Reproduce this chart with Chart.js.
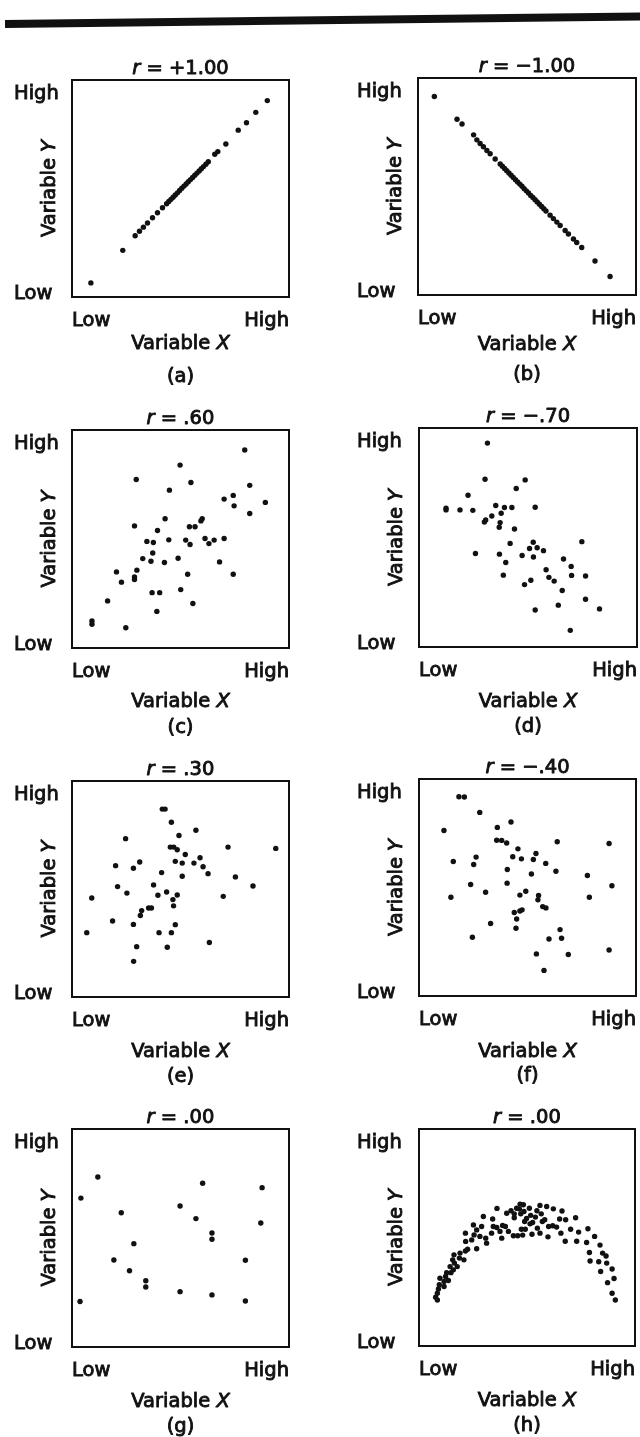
<!DOCTYPE html>
<html>
<head>
<meta charset="utf-8">
<title>Scatter plots and correlation</title>
<script src="https://cdn.jsdelivr.net/npm/chart.js@4.4.1/dist/chart.umd.min.js"></script>
<style>
  html, body { margin: 0; padding: 0; background: #fff; }
  #page { position: relative; width: 640px; height: 1437px; overflow: hidden; }
  .rule {
    position: absolute; left: 5px; top: 20px; width: 640px; height: 8px;
    background: #111; transform-origin: 0 50%; transform: rotate(-0.68deg);
  }
  .panel { position: absolute; }
  .panel canvas { display: block; }
</style>
</head>
<body>
<div id="page">
  <div class="rule"></div>
</div>
<script>
// tick labels shared by every panel
const xTickLabels = ['Low', 'High'];
const yTickLabels = ['Low', 'High'];
const xTickValues = [0, 100];
const yTickValues = [1.5, 93.5];

// correlation shown above each panel, and the caption below it
const rValues = ['+1.00', '\u22121.00', '.60', '\u2212.70', '.30', '\u2212.40', '.00', '.00'];
const captions = ['(a)', '(b)', '(c)', '(d)', '(e)', '(f)', '(g)', '(h)'];

// scatter points as [x, y] on a 0-100 scale
const pointsA = [
  [8.7, 6.5], [23.4, 21.5], [29.1, 28.2], [31.1, 30.3], [32.9, 32.2], [34.8, 34.1],
  [37.1, 36.5], [39.4, 38.8], [41.7, 41.1], [43.6, 43.0], [44.6, 44.0], [45.6, 45.0],
  [46.6, 46.0], [47.6, 47.0], [48.6, 48.0], [49.6, 49.1], [50.6, 50.1], [51.6, 51.1],
  [52.6, 52.1], [53.6, 53.1], [54.6, 54.1], [55.6, 55.1], [56.6, 56.1], [57.6, 57.1],
  [58.6, 58.1], [59.6, 59.1], [60.6, 60.1], [61.7, 61.2], [62.8, 62.3], [65.8, 65.8],
  [67.2, 67.0], [70.9, 70.5], [76.6, 76.9], [80.4, 80.3], [84.7, 85.1], [90.0, 90.5]
];
const pointsB = [
  [7.5, 91.5], [17.9, 81.0], [20.2, 78.8], [25.5, 73.8], [27.0, 71.5], [28.5, 69.8],
  [30.0, 68.3], [31.6, 66.6], [33.1, 65.1], [35.4, 62.7], [37.7, 60.4], [38.7, 59.3],
  [39.7, 58.3], [40.7, 57.3], [41.7, 56.2], [42.7, 55.2], [43.7, 54.2], [44.7, 53.1],
  [45.7, 52.1], [46.7, 51.1], [47.7, 50.1], [48.7, 49.0], [49.7, 48.0], [50.7, 47.0],
  [51.7, 45.9], [52.7, 44.9], [53.7, 43.9], [54.7, 42.9], [55.7, 41.8], [56.7, 40.8],
  [57.7, 39.8], [58.7, 38.7], [60.6, 36.8], [62.1, 35.2], [63.7, 33.6], [65.2, 32.0],
  [67.5, 29.7], [69.0, 28.1], [71.3, 25.8], [72.8, 24.2], [75.1, 21.9], [81.2, 15.7],
  [88.1, 8.5]
];
const pointsC = [
  [79.6, 90.8], [49.8, 83.9], [29.6, 77.3], [54.8, 75.9], [81.9, 74.6], [44.9, 72.4],
  [70.1, 68.3], [74.3, 70.0], [74.7, 65.2], [89.1, 66.8], [81.9, 61.7], [42.9, 59.3],
  [60.0, 59.3], [59.4, 58.3], [28.8, 56.0], [54.1, 55.6], [56.7, 55.6], [39.4, 53.9],
  [34.5, 48.9], [37.5, 48.4], [44.6, 49.6], [52.4, 49.5], [54.4, 47.5], [61.3, 50.2],
  [63.1, 47.9], [65.5, 49.5], [70.1, 50.2], [37.2, 43.6], [32.6, 41.0], [36.4, 39.8],
  [42.6, 39.2], [48.9, 41.2], [68.0, 39.5], [29.9, 35.7], [20.5, 34.9], [28.8, 32.6],
  [28.8, 31.4], [22.8, 30.2], [53.3, 33.8], [74.3, 33.8], [36.9, 25.4], [40.4, 25.4],
  [50.1, 26.8], [16.4, 21.6], [55.7, 20.4], [39.1, 16.8], [9.2, 12.4], [9.2, 10.9],
  [24.8, 9.3]
];
const pointsD = [
  [31.4, 93.1], [30.3, 76.6], [48.7, 76.3], [44.6, 72.4], [22.5, 69.3], [12.4, 63.4],
  [12.4, 62.6], [18.8, 62.6], [24.7, 62.4], [35.2, 64.6], [39.2, 63.7], [42.6, 63.7],
  [53.3, 63.8], [37.7, 61.1], [33.4, 59.8], [30.6, 58.0], [30.0, 57.1], [37.2, 56.8],
  [36.8, 54.7], [43.8, 53.9], [41.8, 47.3], [74.7, 48.1], [52.4, 47.8], [50.7, 45.0],
  [54.2, 45.3], [57.1, 44.0], [25.9, 42.7], [36.9, 42.4], [47.3, 41.8], [52.5, 41.1],
  [39.8, 38.6], [66.3, 40.2], [69.8, 36.8], [58.3, 35.3], [59.6, 31.8], [62.0, 30.1],
  [38.7, 32.8], [70.0, 32.7], [76.4, 32.4], [51.3, 30.5], [48.4, 28.5], [65.7, 25.8],
  [76.4, 21.8], [53.3, 16.9], [63.9, 19.1], [82.8, 17.4], [69.4, 7.6]
];
const pointsE = [
  [41.6, 87.0], [42.9, 87.0], [45.8, 80.9], [57.1, 77.2], [49.3, 74.8], [24.7, 73.3],
  [45.3, 69.4], [46.9, 69.4], [48.5, 68.2], [71.9, 69.4], [93.9, 68.8], [52.2, 66.0],
  [59.0, 64.5], [20.1, 60.8], [31.2, 62.5], [28.3, 59.6], [47.6, 62.8], [50.8, 62.0],
  [56.2, 62.0], [60.4, 60.3], [41.3, 57.6], [62.7, 57.1], [50.8, 55.9], [75.3, 55.6],
  [37.6, 51.9], [21.0, 51.1], [83.4, 51.4], [25.3, 48.1], [39.6, 47.1], [43.6, 48.6],
  [48.5, 47.2], [46.5, 45.1], [69.7, 46.6], [9.1, 45.8], [46.8, 42.2], [35.3, 41.2],
  [36.6, 41.2], [32.1, 40.0], [31.5, 37.7], [18.7, 35.2], [28.3, 33.6], [47.6, 33.5],
  [6.8, 29.8], [40.1, 29.8], [45.8, 29.8], [63.3, 25.2], [29.8, 23.3], [43.9, 23.0],
  [28.4, 16.5]
];
const pointsF = [
  [18.4, 91.8], [20.9, 91.7], [28.0, 84.6], [42.4, 80.2], [36.1, 77.7], [11.5, 76.3],
  [35.8, 71.8], [38.1, 71.7], [40.4, 70.5], [63.7, 71.1], [87.6, 70.3], [45.6, 67.8],
  [15.8, 62.0], [26.3, 64.0], [25.2, 60.6], [43.2, 64.2], [47.2, 63.2], [52.7, 62.9],
  [53.9, 65.7], [58.4, 61.1], [40.7, 58.3], [63.1, 57.5], [51.8, 56.2], [77.6, 55.5],
  [23.8, 51.4], [40.6, 52.0], [88.9, 50.8], [30.7, 47.8], [49.2, 48.3], [46.5, 46.5],
  [14.7, 45.5], [55.1, 46.3], [54.8, 44.3], [78.5, 45.5], [57.0, 41.2], [58.5, 40.6],
  [47.5, 39.7], [46.5, 39.2], [43.9, 38.5], [45.0, 35.5], [33.0, 33.4], [44.7, 31.2],
  [65.0, 30.6], [24.6, 27.1], [59.9, 26.3], [65.7, 26.6], [54.1, 19.4], [68.8, 19.1],
  [87.6, 21.2], [57.6, 11.8]
];
const pointsG = [
  [11.9, 78.0], [4.1, 68.3], [22.7, 61.6], [49.8, 64.7], [60.2, 75.1], [87.6, 73.1],
  [57.1, 58.9], [87.0, 56.9], [64.5, 52.3], [64.5, 49.4], [28.5, 47.4], [19.3, 39.9],
  [79.9, 39.8], [26.5, 35.0], [34.0, 30.4], [34.0, 27.5], [49.8, 25.4], [64.5, 23.9],
  [3.7, 20.9], [79.9, 21.1]
];
const pointsH = [
  [8.5, 21.2], [7.7, 22.5], [8.5, 24.3], [9.0, 26.3], [9.4, 28.2], [11.6, 27.4],
  [11.6, 29.7], [9.7, 31.2], [12.3, 32.0], [13.6, 30.2], [12.8, 33.8], [14.8, 33.8],
  [15.9, 35.1], [14.4, 36.6], [16.4, 38.2], [17.7, 36.6], [15.6, 39.7], [18.7, 40.5],
  [20.8, 39.7], [16.2, 42.0], [19.0, 42.8], [21.5, 43.8], [22.5, 44.6], [26.7, 44.8],
  [21.6, 48.2], [24.4, 48.9], [21.5, 52.0], [25.5, 51.2], [28.2, 50.5], [30.9, 49.7],
  [31.3, 47.4], [26.7, 53.5], [29.0, 55.1], [29.8, 59.7], [25.2, 55.8], [33.6, 52.0],
  [34.4, 55.1], [36.0, 54.6], [38.3, 49.7], [38.7, 55.5], [37.5, 52.8], [40.0, 55.1],
  [36.1, 63.4], [34.1, 58.5], [41.4, 52.8], [42.6, 62.3], [40.6, 61.2], [44.1, 60.9],
  [45.2, 63.5], [44.1, 59.1], [46.8, 65.4], [46.5, 63.1], [47.1, 60.9], [48.3, 65.1],
  [48.6, 62.0], [43.7, 50.8], [45.7, 50.8], [48.0, 51.1], [47.4, 53.8], [49.2, 53.8],
  [48.9, 57.4], [49.8, 58.8], [51.1, 63.5], [51.7, 60.2], [51.4, 56.3], [52.3, 51.5],
  [52.6, 56.9], [53.9, 59.4], [54.6, 62.3], [56.0, 64.8], [56.6, 60.9], [57.1, 57.4],
  [54.8, 54.3], [56.0, 52.0], [59.1, 64.3], [62.2, 63.2], [58.2, 58.2], [60.0, 55.1],
  [59.7, 50.3], [61.9, 55.4], [63.7, 54.8], [65.1, 58.5], [66.2, 62.2], [65.7, 52.0],
  [67.9, 58.2], [67.7, 48.3], [70.2, 53.8], [72.5, 59.1], [73.0, 48.3], [73.9, 52.5],
  [78.2, 54.0], [77.6, 47.7], [81.3, 50.5], [78.9, 43.1], [79.2, 39.2], [83.8, 46.5],
  [83.2, 38.8], [85.0, 42.8], [86.6, 41.5], [84.1, 34.3], [86.9, 38.2], [89.4, 35.5],
  [87.3, 29.2], [90.3, 31.1], [89.4, 24.3], [90.9, 21.2]
];
const panelPoints = [pointsA, pointsB, pointsC, pointsD, pointsE, pointsF, pointsG, pointsH];

// where each plot frame sits on the page; titleGap is the x-title baseline below the frame
const frames = [
  { left: 72,  top: 80,   w: 217, h: 217, titleGap: 52 },
  { left: 418, top: 78,   w: 218, h: 217, titleGap: 55 },
  { left: 72,  top: 430,  w: 217, h: 218, titleGap: 59 },
  { left: 419, top: 428,  w: 218, h: 219, titleGap: 60 },
  { left: 72,  top: 781,  w: 217, h: 216, titleGap: 60 },
  { left: 419, top: 779,  w: 217, h: 217, titleGap: 61 },
  { left: 72,  top: 1129, w: 217, h: 218, titleGap: 60 },
  { left: 419, top: 1129, w: 216, h: 217, titleGap: 60 }
];
const labelLeft = [14, 357];

const ink = '#111';
const family = '"DejaVu Sans", "Liberation Sans", Arial, sans-serif';
const fontSize = 19.5;
const inkSpread = 0.9; // thin outline on glyphs for a heavier print look

Chart.defaults.font.family = family;
Chart.defaults.font.size = fontSize;
Chart.defaults.color = ink;

// draw a line of text made of plain and italic runs, centred on x
function drawRuns(ctx, runs, x, y) {
  const fonts = runs.map(r => (r[1] ? 'italic ' : '') + fontSize + 'px ' + family);
  let total = 0;
  const widths = runs.map((r, i) => {
    ctx.font = fonts[i];
    const w = ctx.measureText(r[0]).width;
    total += w;
    return w;
  });
  let cx = x - total / 2;
  ctx.textAlign = 'left';
  ctx.textBaseline = 'alphabetic';
  ctx.lineWidth = inkSpread;
  ctx.lineJoin = 'round';
  runs.forEach((r, i) => {
    ctx.font = fonts[i];
    ctx.fillText(r[0], cx, y);
    ctx.strokeText(r[0], cx, y);
    cx += widths[i];
  });
}

// frame, r value, axis titles and caption around each plot
const panelText = {
  id: 'panelText',
  afterDraw(chart, args, opts) {
    const { ctx, chartArea: a } = chart;
    const cx = (a.left + a.right) / 2;
    ctx.save();
    ctx.lineWidth = 2;
    ctx.strokeStyle = ink;
    ctx.strokeRect(a.left, a.top, a.right - a.left, a.bottom - a.top);
    ctx.fillStyle = ink;
    drawRuns(ctx, [['r', true], [' = ' + opts.r, false]], cx, a.top - 6);
    drawRuns(ctx, [['Variable ', false], ['X', true]], cx, a.bottom + opts.titleGap);
    drawRuns(ctx, [[opts.caption, false]], cx, a.bottom + 85);
    ctx.translate(a.left - 17, (a.top + a.bottom) / 2);
    ctx.rotate(-Math.PI / 2);
    drawRuns(ctx, [['Variable ', false], ['Y', true]], 0, 0);
    ctx.restore();
  }
};

const page = document.getElementById('page');
const padTop = 40;
const padRight = 14;
const axisH = 100;

frames.forEach((f, i) => {
  const yW = f.left - labelLeft[i % 2];
  const wrap = document.createElement('div');
  wrap.className = 'panel';
  wrap.style.left = (f.left - yW) + 'px';
  wrap.style.top = (f.top - padTop) + 'px';
  const canvas = document.createElement('canvas');
  canvas.width = yW + f.w + padRight;
  canvas.height = padTop + f.h + axisH;
  wrap.appendChild(canvas);
  page.appendChild(wrap);

  new Chart(canvas, {
    type: 'scatter',
    data: {
      datasets: [{
        data: panelPoints[i].map(p => ({ x: p[0], y: p[1] })),
        pointRadius: 2.7,
        pointBorderWidth: 0,
        pointBackgroundColor: ink
      }]
    },
    options: {
      responsive: false,
      animation: false,
      layout: { padding: { top: padTop, right: padRight, left: 0, bottom: 0 } },
      plugins: {
        legend: { display: false },
        tooltip: { enabled: false },
        panelText: { r: rValues[i], caption: captions[i], titleGap: f.titleGap }
      },
      scales: {
        x: {
          type: 'linear',
          min: 0,
          max: 100,
          grid: { display: false, drawTicks: false },
          border: { display: false },
          afterBuildTicks: s => { s.ticks = xTickValues.map(v => ({ value: v })); },
          afterFit: s => { s.height = axisH; },
          ticks: {
            align: 'inner',
            padding: 12,
            maxRotation: 0,
            autoSkip: false,
            color: ink,
            textStrokeColor: ink,
            textStrokeWidth: inkSpread,
            callback: (v, idx) => xTickLabels[idx]
          }
        },
        y: {
          type: 'linear',
          min: 0,
          max: 100,
          grid: { display: false, drawTicks: false },
          border: { display: false },
          afterBuildTicks: s => { s.ticks = yTickValues.map(v => ({ value: v })); },
          afterFit: s => { s.width = yW; },
          ticks: {
            crossAlign: 'far',
            padding: 0,
            autoSkip: false,
            color: ink,
            textStrokeColor: ink,
            textStrokeWidth: inkSpread,
            callback: (v, idx) => yTickLabels[idx]
          }
        }
      }
    },
    plugins: [panelText]
  });
});
</script>
</body>
</html>
